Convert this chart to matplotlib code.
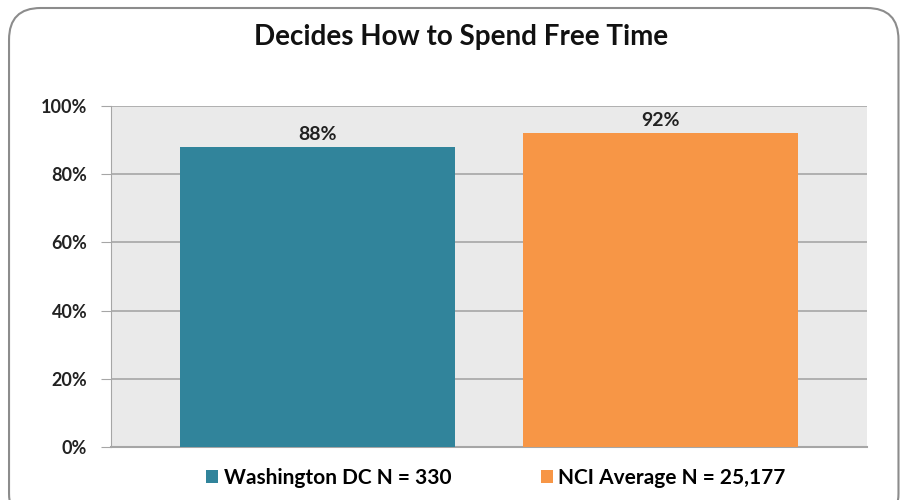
import matplotlib.pyplot as plt
from matplotlib.patches import FancyBboxPatch, Patch

categories = ["Washington DC N = 330", "NCI Average N = 25,177"]
values = [0.88, 0.92]
colors = ["#31849B", "#F79646"]
yticks = [0, 0.2, 0.4, 0.6, 0.8, 1.0]

plt.rcParams["font.family"] = ["Lato", "DejaVu Sans"]
plt.rcParams["font.weight"] = "bold"

fig = plt.figure(figsize=(9.03, 5.0), dpi=100)
fig.patch.set_facecolor("white")

# rounded chart frame (bottom edge runs off the image)
frame = FancyBboxPatch((0.010, -0.05), 0.985, 1.034, boxstyle="round,pad=0,rounding_size=0.035",
                       transform=fig.transFigure, facecolor="none", edgecolor="#8C8C8C",
                       linewidth=1.5, clip_on=False, mutation_aspect=903 / 500)
fig.patches.append(frame)

ax = fig.add_axes([0.1229, 0.106, 0.8373, 0.682])
ax.set_facecolor("#EAEAEA")
x = list(range(len(categories)))
ax.bar(x, values, width=0.8, color=colors, zorder=3)
for xi, v in zip(x, values):
    ax.text(xi, v + 0.012, f"{v:.0%}", ha="center", va="bottom", fontsize=14,
            fontweight="bold", color="#222222")

ax.set_xlim(-0.602, 1.602)
ax.set_ylim(0, 1.0)
ax.set_yticks(yticks)
ax.set_yticklabels([f"{t:.0%}" for t in yticks], fontsize=13, fontweight="bold", color="#222222")
ax.set_xticks([])
ax.grid(axis="y", color="#A6A6A6", linewidth=1.2, zorder=1)
for s in ["top", "right"]:
    ax.spines[s].set_visible(False)
ax.spines["left"].set_color("#A6A6A6")
ax.spines["bottom"].set_color("#A6A6A6")
ax.spines["bottom"].set_linewidth(1.5)
ax.tick_params(axis="y", length=7, color="#A6A6A6", pad=10)

fig.text(0.511, 0.925, "Decides How to Spend Free Time", ha="center", va="center",
         fontsize=20, fontweight="bold", color="#111111")

handles = [Patch(facecolor=c) for c in colors]
fig.legend(handles, categories, loc="center", bbox_to_anchor=(0.549, 0.044), ncol=2,
           frameon=False, fontsize=15, handlelength=0.6, handleheight=0.6,
           handletextpad=0.25, columnspacing=4.3)

fig.savefig("out.png", dpi=100)
